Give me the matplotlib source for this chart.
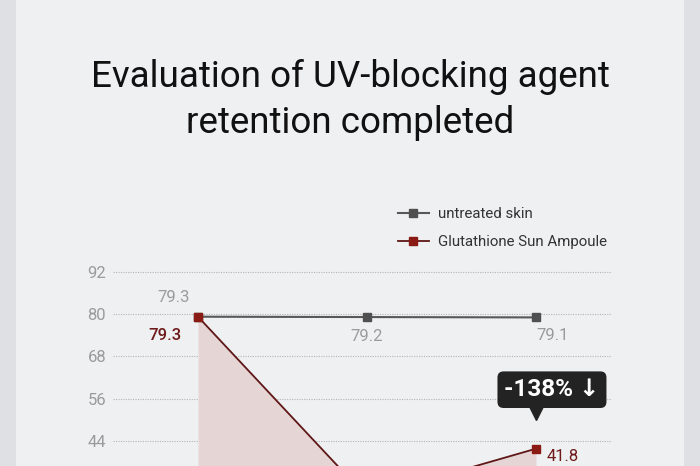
import matplotlib.pyplot as plt
from matplotlib.patches import Rectangle
from matplotlib.transforms import offset_copy

plt.rcParams['font.family'] = ['Roboto', 'DejaVu Sans']

points = [0, 1, 2]
untreated = [79.3, 79.2, 79.1]
ampoule = [79.3, 28.0, 41.8]
series_names = ['untreated skin', 'Glutathione Sun Ampoule']
yticks = [44, 56, 68, 80, 92]
badge_text = '-138% ↓'
title = 'Evaluation of UV-blocking agent\nretention completed'

W, H = 700, 466
GRAY = '#585858'
RED = '#8a1a14'
LABEL_GRAY = '#9b9b9b'

fig = plt.figure(figsize=(7, 4.66), dpi=100, facecolor='#dfe0e4')
fig.patches.append(Rectangle((16 / W, 0), (684 - 16) / W, 1, transform=fig.transFigure,
                             facecolor='#eff0f2', edgecolor='none', zorder=-10))

# axes placed so that the lower part runs off the picture (the reference is a crop)
px_per_unit = 3.52
top_px = 272 - 3 * px_per_unit
bot_px = 272 + 92 * px_per_unit
ax = fig.add_axes([113 / W, 1 - bot_px / H, 499 / W, (bot_px - top_px) / H])
ax.set_facecolor('none')
ax.set_xlim(-0.503, 2.45)
ax.set_ylim(0, 95)
ax.set_yticks(yticks)
ax.set_xticks([])
for s in ax.spines.values():
    s.set_visible(False)
ax.tick_params(axis='y', length=0, pad=5, labelsize=12, labelcolor=LABEL_GRAY)
ax.yaxis.grid(True, linestyle=(0, (1, 1.2)), color='#b5b5b5', linewidth=0.8)
ax.set_axisbelow(True)

ax.fill_between(points, ampoule, 0, color='#e6d5d5', linewidth=0, zorder=1)
l1, = ax.plot(points, untreated, color=GRAY, lw=1.5, marker='s', ms=6,
              mfc='#4f4f4f', mec='#4f4f4f', zorder=3, label=series_names[0])
l2, = ax.plot(points, ampoule, color='#5e1616', lw=1.3, marker='s', ms=6,
              mfc=RED, mec=RED, zorder=4, label=series_names[1])

# value labels
ax.annotate(f'{untreated[0]}', (points[0], untreated[0]), xytext=(-24, 19),
            textcoords='offset pixels', ha='center', va='center', fontsize=12,
            color=LABEL_GRAY)
ax.annotate(f'{untreated[1]}', (points[1], untreated[1]), xytext=(0, -19),
            textcoords='offset pixels', ha='center', va='center', fontsize=12,
            color=LABEL_GRAY)
ax.annotate(f'{untreated[2]}', (points[2], untreated[2]), xytext=(17, -18),
            textcoords='offset pixels', ha='center', va='center', fontsize=12,
            color=LABEL_GRAY)
ax.annotate(f'{ampoule[0]}', (points[0], ampoule[0]), xytext=(-33, -19),
            textcoords='offset pixels', ha='center', va='center', fontsize=12,
            color='#6e1a1a', fontweight='medium')
ax.annotate(f'{ampoule[2]}', (points[2], ampoule[2]), xytext=(27, -8),
            textcoords='offset pixels', ha='center', va='center', fontsize=12,
            color='#6e1a1a')

# tooltip badge over the last point
ax.annotate(badge_text, (points[2], ampoule[2]), xytext=(16, 59),
            textcoords='offset pixels', ha='center', va='center', fontsize=17.5,
            fontweight='bold', color='white', zorder=6,
            bbox=dict(boxstyle='round,pad=0.28,rounding_size=0.25', fc='#232323', ec='none'))
tri = offset_copy(ax.transData, fig=fig, x=0, y=36, units='dots')
ax.plot([points[2]], [ampoule[2]], marker='v', ms=10, color='#232323',
        transform=tri, zorder=6)

fig.text(0.5, 1 - 100 / H, title, ha='center', va='center', fontsize=26.5,
         linespacing=1.35, color='#111111')

fig.legend(handles=[l1, l2], loc='upper left', bbox_to_anchor=(390 / W, 1 - 200 / H),
           frameon=False, fontsize=10.8, labelcolor='#333333', borderpad=0,
           handlelength=2.07, handletextpad=0.6, labelspacing=0.9)

fig.savefig('out.png', dpi=100, facecolor=fig.get_facecolor())
